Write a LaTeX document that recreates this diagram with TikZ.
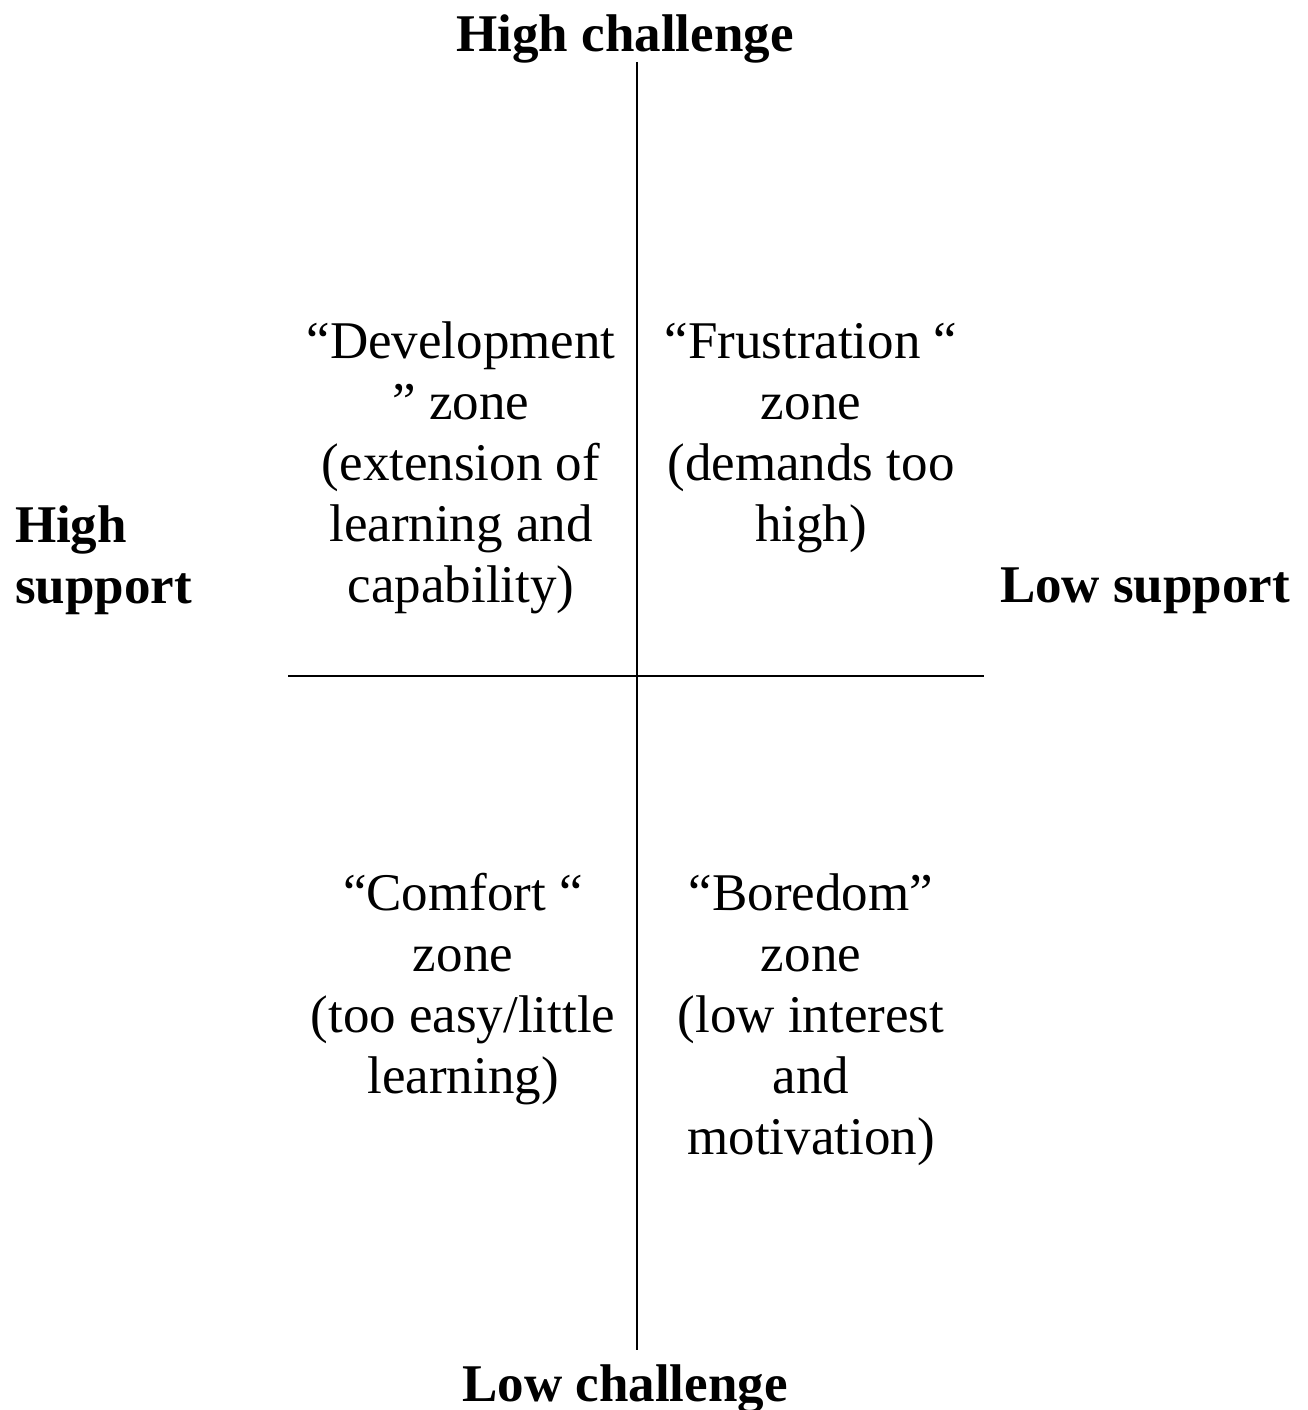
\documentclass[tikz,border=0pt]{standalone}
\usepackage{fontspec}
\setmainfont{Liberation Serif}
\begin{document}
\begin{tikzpicture}[x=1pt,y=-1pt,
  every node/.style={inner sep=0pt, outer sep=0pt, font=\fontsize{53}{61}\selectfont},
  zone/.style={align=center},
  axislabel/.style={font=\fontsize{53}{61}\selectfont\bfseries},
  axis/.style={line width=2pt}]
\useasboundingbox[fill=white] (0,0) rectangle (1307,1410);
\coordinate (vtop) at (637,62);
\coordinate (vbot) at (637,1350);
\coordinate (hleft) at (288,676);
\coordinate (hright) at (984,676);
\draw[axis] (vtop) -- (vbot);
\draw[axis] (hleft) -- (hright);
\node[axislabel] (hc) at (625,39) {High challenge};
\node[axislabel] (lc) at (625,1389) {Low challenge};
\node[axislabel, align=left, anchor=west] (hs) at (15,560) {High\\support};
\node[axislabel, anchor=west] (ls) at (1000,591) {Low support};
\node[zone] (dev) at (461,468) {“Development\\” zone\\(extension of\\learning and\\capability)};
\node[zone] (fru) at (811,438) {“Frustration “\\zone\\(demands too\\high)};
\node[zone] (com) at (463,989) {“Comfort “\\zone\\(too easy/little\\learning)};
\node[zone] (bor) at (811,1020) {“Boredom”\\zone\\(low interest\\and\\motivation)};
\end{tikzpicture}
\end{document}
